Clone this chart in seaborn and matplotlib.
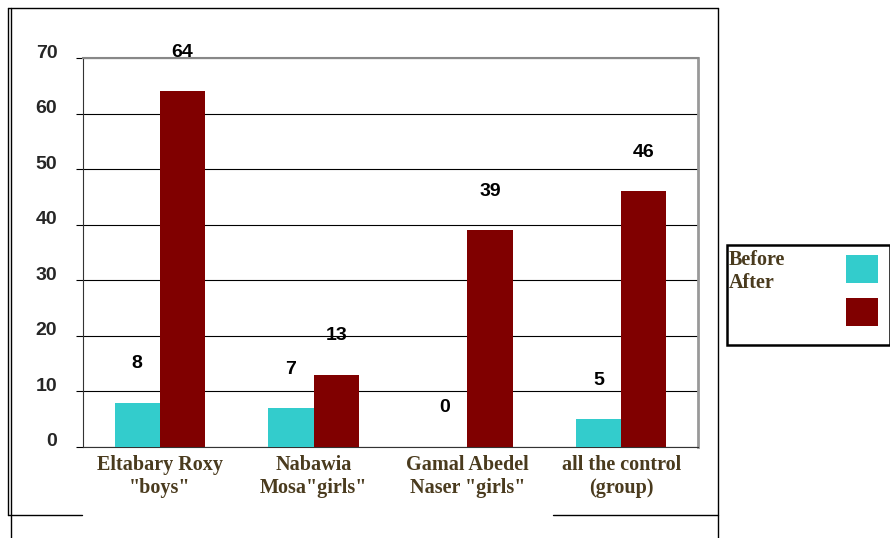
import pandas as pd
import seaborn as sns
from matplotlib import pyplot as plt
from matplotlib.lines import Line2D
from matplotlib.patches import Rectangle
from matplotlib.transforms import ScaledTranslation

schools = ['Eltabary Roxy\n"boys"', 'Nabawia\nMosa"girls"',
           'Gamal Abedel\nNaser "girls"', 'all the control\n(group)']
before = [8, 7, 0, 5]
after = [64, 13, 39, 46]
y_ticks = [0, 10, 20, 30, 40, 50, 60, 70]

colors = ['#33CCCC', '#800000']
brown = '#4a3b1e'

data = pd.DataFrame({
    'school': schools * 2,
    'score': before + after,
    'phase': ['Before'] * 4 + ['After'] * 4,
})

sns.set_style('white')
plt.rcParams['font.family'] = ['Liberation Sans', 'DejaVu Sans']

fig = plt.figure(figsize=(8.9, 5.38), dpi=100)
ax = fig.add_axes([83 / 890, 1 - 447 / 538, 615 / 890, 389 / 538])

sns.barplot(data=data, x='school', y='score', hue='phase', palette=colors,
            width=0.59, gap=0, saturation=1, legend=False, ax=ax, zorder=3,
            linewidth=0)

for cont in ax.containers:
    ax.bar_label(cont, padding=22, fontsize=14, fontweight='bold', color='black')

ax.set_ylim(0, 70)
ax.set_xlim(-0.5, 3.5)
ax.set_yticks(y_ticks)
ax.set_xlabel('')
ax.set_ylabel('')
ax.yaxis.grid(True, color='black', linewidth=0.8, zorder=0)
ax.tick_params(axis='y', left=True, length=5, width=0.8, color='black', pad=13.5, labelsize=14)
ax.tick_params(axis='x', length=0, pad=6)
for lbl in ax.get_yticklabels():
    lbl.set_fontweight('bold')
    lbl.set_transform(lbl.get_transform() + ScaledTranslation(0, 7 / 100, fig.dpi_scale_trans))
for lbl in ax.get_xticklabels():
    lbl.set_fontfamily('Liberation Serif')
    lbl.set_fontweight('bold')
    lbl.set_fontsize(14.5)
    lbl.set_color(brown)
    lbl.set_linespacing(1.2)

ax.spines['left'].set_color('#333333')
ax.spines['bottom'].set_color('#333333')
ax.spines['top'].set_color('#888888')
ax.spines['right'].set_color('#999999')
ax.spines['right'].set_linewidth(2)
ax.spines['top'].set_linewidth(1.5)

# outer frame pieces
W, H = 890, 538
def fline(x0, y0, x1, y1, lw=1.0, c='black'):
    fig.add_artist(Line2D([x0 / W, x1 / W], [1 - y0 / H, 1 - y1 / H],
                          color=c, linewidth=lw, transform=fig.transFigure))

fline(8, 8, 718, 8)
fline(8, 8, 8, 515)
fline(11, 8, 11, 538)
fline(718, 8, 718, 538)
fline(8, 515, 82, 515)
fline(553, 515, 718, 515)

# legend box
fig.add_artist(Rectangle((727 / W, 1 - 345 / H), 163 / W, 100 / H, fill=False,
                         edgecolor='black', linewidth=1.8, transform=fig.transFigure))
fig.text(729 / W, 1 - 260 / H, 'Before', family='Liberation Serif', weight='bold',
         fontsize=14.5, color=brown, va='center')
fig.text(729 / W, 1 - 283 / H, 'After', family='Liberation Serif', weight='bold',
         fontsize=14.5, color=brown, va='center')
fig.add_artist(Rectangle((846 / W, 1 - 283 / H), 32 / W, 28 / H, facecolor=colors[0],
                         edgecolor='none', transform=fig.transFigure))
fig.add_artist(Rectangle((846 / W, 1 - 326 / H), 32 / W, 28 / H, facecolor=colors[1],
                         edgecolor='none', transform=fig.transFigure))

fig.savefig('out.png', dpi=100, facecolor='white')
